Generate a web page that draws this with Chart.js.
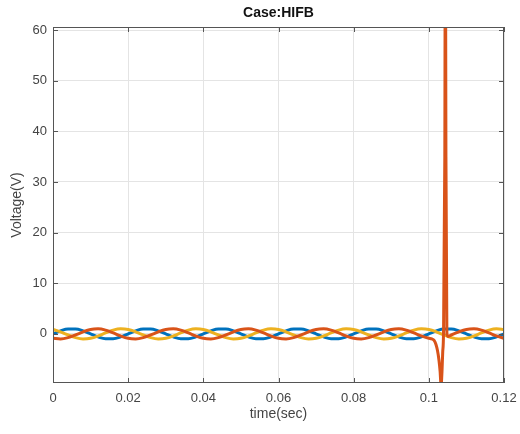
<!DOCTYPE html>
<html lang="en">
<head>
  <meta charset="UTF-8" />
  <title>Case:HIFB</title>
  <script src="https://cdn.jsdelivr.net/npm/chart.js"></script>
  <style>
    body { margin: 0; background: #fff; }
    canvas { display: block; }
  </style>
</head>
<body>
  <canvas id="chart" width="520" height="434"></canvas>

  <script>
    // time axis (sec), sampled every 2 ms
    const timeSec = [0, 0.002, 0.004, 0.006, 0.008, 0.01, 0.012, 0.014, 0.016, 0.018,
      0.02, 0.022, 0.024, 0.026, 0.028, 0.03, 0.032, 0.034, 0.036, 0.038,
      0.04, 0.042, 0.044, 0.046, 0.048, 0.05, 0.052, 0.054, 0.056, 0.058,
      0.06, 0.062, 0.064, 0.066, 0.068, 0.07, 0.072, 0.074, 0.076, 0.078,
      0.08, 0.082, 0.084, 0.086, 0.088, 0.09, 0.092, 0.094, 0.096, 0.098,
      0.1, 0.102, 0.104, 0.106, 0.108, 0.11, 0.112, 0.114, 0.116, 0.118, 0.12];

    const phaseA = [0, 0.59, 0.95, 0.95, 0.59, 0, -0.59, -0.95, -0.95, -0.59,
      0, 0.59, 0.95, 0.95, 0.59, 0, -0.59, -0.95, -0.95, -0.59,
      0, 0.59, 0.95, 0.95, 0.59, 0, -0.59, -0.95, -0.95, -0.59,
      0, 0.59, 0.95, 0.95, 0.59, 0, -0.59, -0.95, -0.95, -0.59,
      0, 0.59, 0.95, 0.95, 0.59, 0, -0.59, -0.95, -0.95, -0.59,
      0, 0.59, 0.95, 0.95, 0.59, 0, -0.59, -0.95, -0.95, -0.59, 0];

    const phaseC = [0.87, 0.41, -0.21, -0.74, -0.99, -0.87, -0.41, 0.21, 0.74, 0.99,
      0.87, 0.41, -0.21, -0.74, -0.99, -0.87, -0.41, 0.21, 0.74, 0.99,
      0.87, 0.41, -0.21, -0.74, -0.99, -0.87, -0.41, 0.21, 0.74, 0.99,
      0.87, 0.41, -0.21, -0.74, -0.99, -0.87, -0.41, 0.21, 0.74, 0.99,
      0.87, 0.41, -0.21, -0.74, -0.99, -0.87, -0.41, 0.21, 0.74, 0.99,
      0.87, 0.41, -0.21, -0.74, -0.99, -0.87, -0.41, 0.21, 0.74, 0.99, 0.87];

    // faulted phase has extra samples around the transient
    const timeB = [0, 0.002, 0.004, 0.006, 0.008, 0.01, 0.012, 0.014, 0.016, 0.018,
      0.02, 0.022, 0.024, 0.026, 0.028, 0.03, 0.032, 0.034, 0.036, 0.038,
      0.04, 0.042, 0.044, 0.046, 0.048, 0.05, 0.052, 0.054, 0.056, 0.058,
      0.06, 0.062, 0.064, 0.066, 0.068, 0.07, 0.072, 0.074, 0.076, 0.078,
      0.08, 0.082, 0.084, 0.086, 0.088, 0.09, 0.092, 0.094, 0.096, 0.098,
      0.1, 0.1008, 0.1014, 0.1019, 0.1023, 0.1027, 0.103, 0.10325, 0.1035, 0.1037, 0.1039,
      0.10425, 0.1044, 0.10455, 0.1048, 0.1052,
      0.106, 0.108, 0.11, 0.112, 0.114, 0.116, 0.118, 0.12];

    const phaseB = [-0.87, -0.99, -0.74, -0.21, 0.41, 0.87, 0.99, 0.74, 0.21, -0.41,
      -0.87, -0.99, -0.74, -0.21, 0.41, 0.87, 0.99, 0.74, 0.21, -0.41,
      -0.87, -0.99, -0.74, -0.21, 0.41, 0.87, 0.99, 0.74, 0.21, -0.41,
      -0.87, -0.99, -0.74, -0.21, 0.41, 0.87, 0.99, 0.74, 0.21, -0.41,
      -0.87, -0.99, -0.74, -0.21, 0.41, 0.87, 0.99, 0.74, 0.21, -0.41,
      -0.87, -1.0, -1.3, -2.1, -3.3, -5.2, -7.4, -10.2, -7.5, -3.5, 0,
      35, 85, 35, 0, -0.5,
      -0.21, 0.41, 0.87, 0.99, 0.74, 0.21, -0.41, -0.87];

    const xTicks = [0, 0.02, 0.04, 0.06, 0.08, 0.1, 0.12];
    const yTicks = [0, 10, 20, 30, 40, 50, 60];

    const tickFont = { family: "'Liberation Sans', Arial, sans-serif", size: 13 };
    const labelFont = { family: "'Liberation Sans', Arial, sans-serif", size: 14 };
    const textColor = '#444';
    const gridColor = '#e4e4e4';

    function pts(xs, ys) {
      return xs.map((x, i) => ({ x: x, y: ys[i] }));
    }

    // matlab-like box, inward ticks and title
    const axesBox = {
      id: 'axesBox',
      afterDraw(chart) {
        const { ctx, chartArea: a, scales } = chart;
        ctx.save();
        ctx.strokeStyle = '#555';
        ctx.lineWidth = 1;
        ctx.strokeRect(a.left + 0.5, a.top + 0.5, a.right - a.left - 1, a.bottom - a.top - 1);
        ctx.beginPath();
        xTicks.forEach(v => {
          const x = Math.round(scales.x.getPixelForValue(v)) + 0.5;
          ctx.moveTo(x, a.bottom); ctx.lineTo(x, a.bottom - 5);
          ctx.moveTo(x, a.top); ctx.lineTo(x, a.top + 5);
        });
        yTicks.forEach(v => {
          const y = Math.round(scales.y.getPixelForValue(v)) + 0.5;
          ctx.moveTo(a.left, y); ctx.lineTo(a.left + 5, y);
          ctx.moveTo(a.right, y); ctx.lineTo(a.right - 5, y);
        });
        ctx.stroke();
        ctx.fillStyle = '#111';
        ctx.font = "bold 14px 'Liberation Sans', Arial, sans-serif";
        ctx.textAlign = 'center';
        ctx.textBaseline = 'middle';
        ctx.fillText('Case:HIFB', (a.left + a.right) / 2, 13);
        ctx.restore();
      }
    };

    new Chart(document.getElementById('chart'), {
      type: 'line',
      data: {
        datasets: [
          { label: 'A', data: pts(timeSec, phaseA), borderColor: '#0072BD', order: 2 },
          { label: 'B', data: pts(timeB, phaseB), borderColor: '#D95319', order: 0 },
          { label: 'C', data: pts(timeSec, phaseC), borderColor: '#EDB120', order: 1 }
        ]
      },
      options: {
        responsive: false,
        animation: false,
        layout: { padding: { top: 27, right: 16, left: 0, bottom: 0 } },
        elements: {
          point: { radius: 0 },
          line: { borderWidth: 3, cubicInterpolationMode: 'monotone', fill: false }
        },
        plugins: { legend: { display: false }, tooltip: { enabled: false } },
        scales: {
          x: {
            type: 'linear', min: 0, max: 0.12,
            afterBuildTicks: s => { s.ticks = xTicks.map(v => ({ value: v })); },
            afterFit: s => { s.height = 51; s.paddingLeft = 0; s.paddingRight = 0; },
            grid: { color: gridColor, drawTicks: false },
            border: { display: false },
            ticks: { padding: 8, font: tickFont, color: textColor, maxRotation: 0, callback: v => String(v) },
            title: { display: true, text: 'time(sec)', font: labelFont, color: textColor, padding: { top: 0, bottom: 11 } }
          },
          y: {
            min: -9.7, max: 60.6,
            afterBuildTicks: s => { s.ticks = yTicks.map(v => ({ value: v })); },
            afterFit: s => { s.width = 53; s.paddingTop = 0; s.paddingBottom = 0; },
            grid: { color: gridColor, drawTicks: false },
            border: { display: false },
            ticks: { padding: 6, font: tickFont, color: textColor, callback: v => String(v) },
            title: { display: true, text: 'Voltage(V)', font: labelFont, color: textColor, padding: { top: 9, bottom: 0 } }
          }
        }
      },
      plugins: [axesBox]
    });
  </script>
</body>
</html>
